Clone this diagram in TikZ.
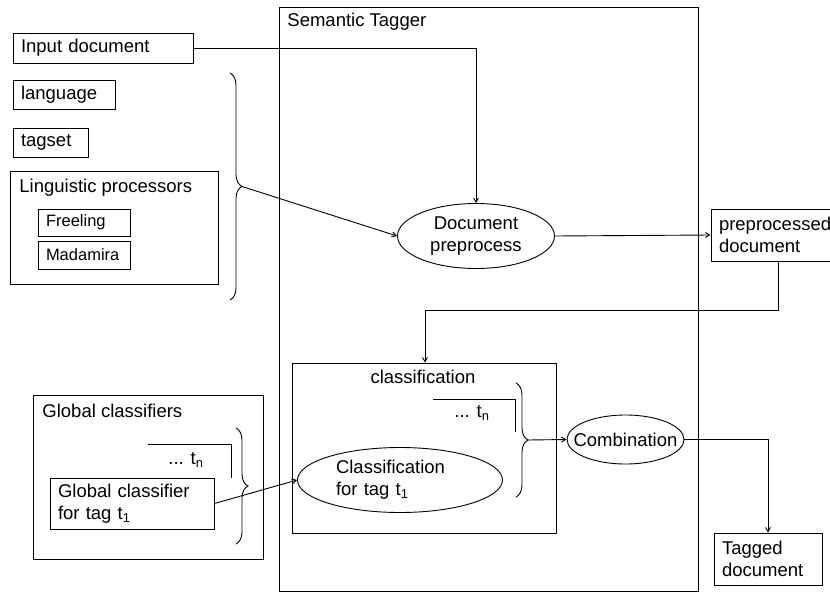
\documentclass[tikz,border=0pt]{standalone}
\usepackage{fontspec}
\setmainfont{Liberation Sans}
\usepackage{tikz}
\usetikzlibrary{arrows,shapes.geometric,decorations.pathreplacing}

\tikzset{
  box/.style={draw, rectangle, inner xsep=8pt, inner ysep=0pt, align=left},
  frame/.style={draw, rectangle, inner sep=0pt},
  oval/.style={draw, ellipse, inner sep=0pt, align=left},
  brc/.style={decorate, decoration={brace, amplitude=12pt}},
  small/.style={font=\fontsize{16.5}{19}\selectfont},
}

\begin{document}
\begin{tikzpicture}[x=1pt, y=-1pt, line width=0.9pt, >=angle 60,
  font=\fontsize{18.5}{22}\selectfont]
\useasboundingbox (0,0) rectangle (830,592);

% inputs on the left
\node[box, text width=164pt, minimum height=30pt] (input) at (103,48) {Input document};
\node[box, text width=86pt, minimum height=29pt] (lang) at (64,94.5) {language};
\node[box, text width=59pt, minimum height=29pt] (tagset) at (50.5,142.5) {tagset};

\node[frame, minimum width=208pt, minimum height=113pt] (ling) at (114,227.5) {};
\node[anchor=west, inner sep=0pt] (lingtxt) at (19,188) {Linguistic processors};
\node[box, small, text width=76pt, minimum height=27pt] (freeling) at (84,222.5) {Freeling};
\node[box, small, text width=76pt, minimum height=28pt] (madamira) at (84,255) {Madamira};

\draw[brc] (230,73) -- (230,300);
\coordinate (b1) at (242,186.5);

% the tagger
\node[frame, minimum width=419pt, minimum height=584pt] (tagger) at (488.5,299) {};
\node[anchor=west, inner sep=0pt] (taggertxt) at (287,22) {Semantic Tagger};

\node[oval, align=center, minimum width=157pt, minimum height=65pt] (preproc) at (476,236) {Document\\preprocess};

\node[box, text width=118pt, minimum height=52pt] (prepdoc) at (778,235) {preprocessed\\document};
\coordinate (bend1) at (425,310);

\node[frame, minimum width=264pt, minimum height=170pt] (classif) at (424,448) {};
\node[inner sep=0pt] (classiftxt) at (423,377) {classification};
\draw (433,399) -- (515,399) -- (515,432);
\node[anchor=east, inner sep=0pt] (tnclass) at (490,413) {... t\textsubscript{n}};
\node[oval, text width=128pt, minimum width=205pt, minimum height=65pt] (clsell) at (400,480) {Classification\\for tag t\textsubscript{1}};

\draw[brc] (516,383) -- (516,497);
\coordinate (b2) at (528,440);

\node[oval, minimum width=117pt, minimum height=49pt] (combo) at (625.5,439.5) {};
\node[inner sep=0pt] (combotxt) at (combo) {Combination};

\node[box, text width=92pt, minimum height=52pt] (tagged) at (768,559) {Tagged\\document};

% global classifiers
\node[frame, minimum width=230pt, minimum height=164pt] (global) at (148,477) {};
\node[anchor=west, inner sep=0pt] (globaltxt) at (42,411) {Global classifiers};
\draw (148,444) -- (231,444) -- (231,478);
\node[anchor=east, inner sep=0pt] (tnglobal) at (204,460) {... t\textsubscript{n}};
\node[box, text width=148pt, minimum height=51pt] (gclass) at (132,503.5) {Global classifier\\for tag t\textsubscript{1}};

\draw[brc] (236,428) -- (236,544);

% connectors
\draw[->] (input.east) -| (preproc.north);
\draw[->] (b1) -- (preproc.west);
\draw[->] (preproc.east) -- (prepdoc.west);
\draw[->] (prepdoc.south) |- (bend1) -- (bend1 |- classif.north);
\draw[->] (gclass.east) -- (clsell.west);
\draw[->] (b2) -- (combo.west);
\draw[->] (combo.east) -| (tagged.north);

\end{tikzpicture}
\end{document}
